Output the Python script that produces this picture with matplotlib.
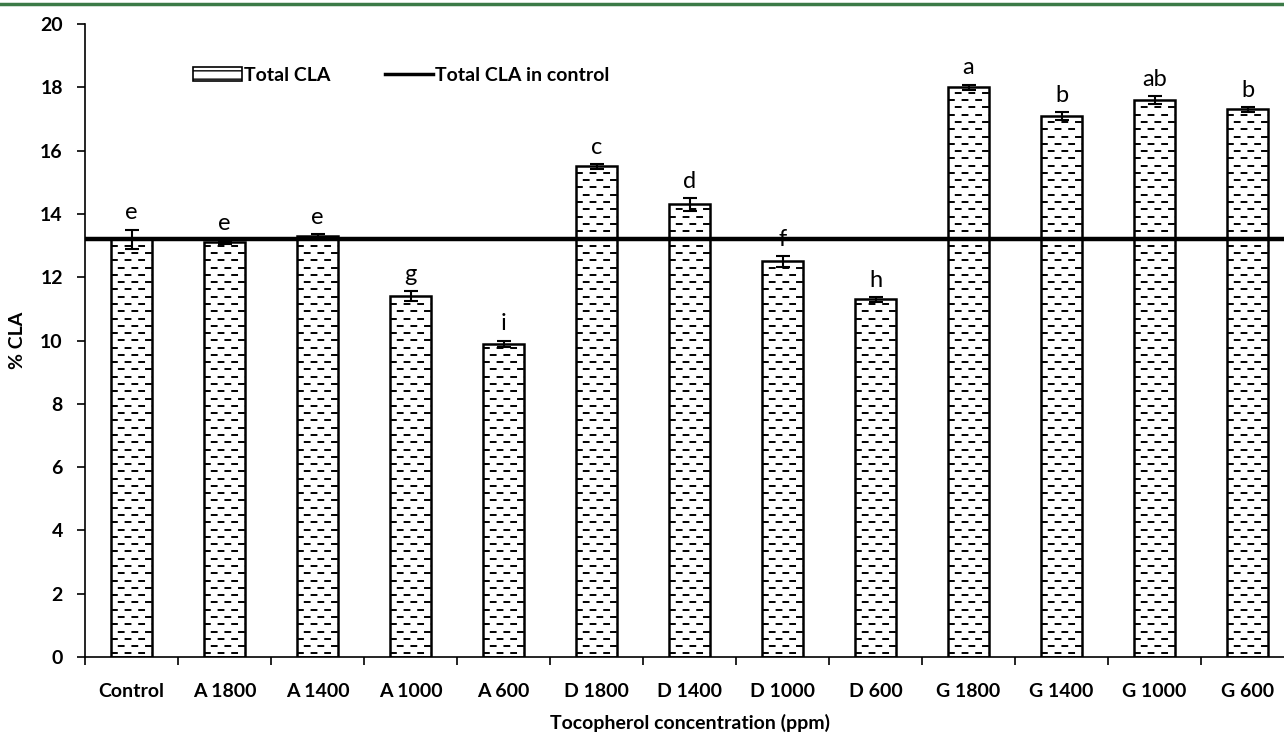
import numpy as np
import matplotlib
matplotlib.use("Agg")
import matplotlib.pyplot as plt
from matplotlib.patches import Patch
from matplotlib.lines import Line2D

categories = ["Control", "A 1800", "A 1400", "A 1000", "A 600", "D 1800", "D 1400",
              "D 1000", "D 600", "G 1800", "G 1400", "G 1000", "G 600"]
cla = [13.2, 13.1, 13.3, 11.4, 9.9, 15.5, 14.3, 12.5, 11.3, 18.0, 17.1, 17.6, 17.3]
cla_err = [0.3, 0.05, 0.05, 0.15, 0.1, 0.07, 0.2, 0.17, 0.07, 0.08, 0.12, 0.13, 0.07]
letters = ["e", "e", "e", "g", "i", "c", "d", "f", "h", "a", "b", "ab", "b"]
control_cla = 13.2

plt.rcParams['font.family'] = ['Lato', 'DejaVu Sans']

fig = plt.figure(figsize=(12.84, 7.36), dpi=100)
ax = fig.add_axes([85 / 1284, 1 - 657 / 736, 13 * 93 / 1284, (657 - 24) / 736])

x = np.arange(len(categories))
w = 0.45
ax.bar(x, cla, width=w, color="white", edgecolor="black", linewidth=1.8, zorder=2)

# dashed fill pattern inside bars
step = 0.23
for i, v in enumerate(cla):
    ys = np.arange(step / 2, v - 0.05, step)
    for k, yy in enumerate(ys):
        off = 0 if k % 2 == 0 else 3.5
        ax.hlines(yy, i - w / 2, i + w / 2, colors="black", linewidth=1.4,
                  linestyles=(off, (3.5, 3.5)), zorder=3)

ax.errorbar(x, cla, yerr=cla_err, fmt="none", ecolor="black", elinewidth=1.5,
            capsize=5, capthick=1.5, zorder=4)
ax.axhline(control_cla, color="black", linewidth=3.2, zorder=5)

for i, (v, e, l) in enumerate(zip(cla, cla_err, letters)):
    ax.text(i, v + e + 0.2, l, ha="center", va="bottom", fontsize=17)

ax.set_xlim(-0.5, len(categories) - 0.5)
ax.set_ylim(0, 20)
ax.set_yticks(np.arange(0, 21, 2))
ax.set_xticks(x)
ax.set_xticklabels(categories, fontsize=14, fontweight="bold")
ax.set_xticks(np.arange(-0.5, len(categories), 1), minor=True)
ax.tick_params(axis="x", which="major", length=0, pad=19)
ax.tick_params(axis="x", which="minor", length=6, width=1.2, direction="out")
ax.tick_params(axis="y", length=6, width=1.2, labelsize=14, pad=10)
for lab in ax.get_yticklabels():
    lab.set_fontweight("bold")
ax.spines["top"].set_visible(False)
ax.spines["right"].set_visible(False)
ax.spines["left"].set_linewidth(1.2)
ax.spines["bottom"].set_linewidth(1.2)

ax.set_xlabel("Tocopherol concentration (ppm)", fontdict={"size": 14, "weight": "bold"}, labelpad=10)
ax.set_ylabel("% CLA", fontdict={"size": 14, "weight": "bold"}, labelpad=10)

handles = [Patch(facecolor="white", edgecolor="black", hatch="--", linewidth=1.2),
           Line2D([0], [0], color="black", linewidth=2.5)]
ax.legend(handles, ["Total CLA", "Total CLA in control"], loc="upper left",
          bbox_to_anchor=(0.075, 0.96), ncol=2, frameon=False,
          handlelength=2.5, handletextpad=0.1, columnspacing=2.8,
          prop={"size": 14, "weight": "bold"})

fig.add_artist(Line2D([0, 1], [1 - 4 / 736, 1 - 4 / 736], color="#3b7a47", linewidth=2.5))

fig.savefig("out.png", dpi=100)
